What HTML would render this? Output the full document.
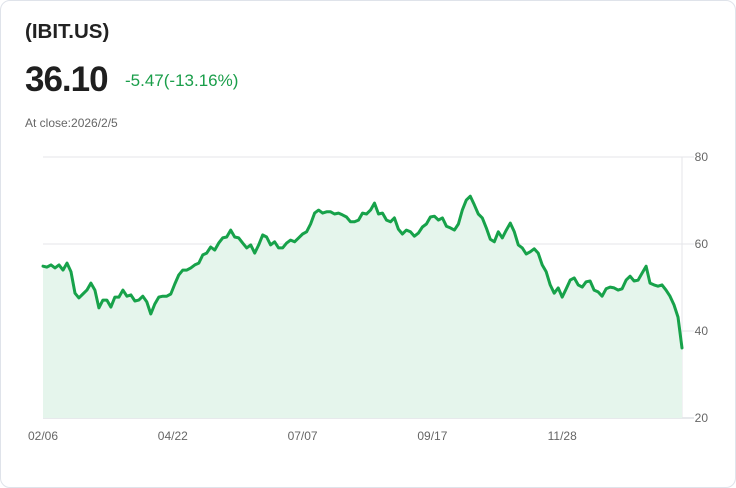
<!DOCTYPE html>
<html><head><meta charset="utf-8"><style>
html,body{margin:0;padding:0;background:#fff;width:736px;height:488px;overflow:hidden;font-family:"Liberation Sans",sans-serif;}
.card{position:absolute;left:0;top:0;width:734px;height:486px;border:1px solid #dfe3ea;border-radius:10px;}
.t{position:absolute;white-space:nowrap;}
</style></head><body>
<div class="card"></div>
<div class="t" style="left:25px;top:20px;font-size:20.5px;font-weight:bold;color:#222;">(IBIT.US)</div>
<div class="t" style="left:25px;top:60px;font-size:35px;font-weight:bold;color:#1f1f1f;letter-spacing:-1px;">36.10</div>
<div class="t" style="left:125px;top:71px;font-size:17px;color:#1a9e4a;">-5.47(-13.16%)</div>
<div class="t" style="left:25px;top:116px;font-size:12px;color:#666;">At close:2026/2/5</div>
<svg id="chart" width="736" height="488" style="position:absolute;left:0;top:0;"></svg>
<script>
const values=[54.9,54.7,55.2,54.5,55.2,54.0,55.6,53.6,48.7,47.6,48.5,49.4,51.0,49.4,45.3,47.1,47.1,45.5,47.8,47.8,49.4,48.0,48.3,46.9,47.1,48.0,46.7,43.9,46.2,47.8,48.0,48.0,48.5,50.8,52.9,54.0,54.0,54.5,55.2,55.6,57.5,57.9,59.3,58.6,60.2,61.4,61.6,63.2,61.6,61.4,60.2,59.1,59.8,57.9,59.8,62.1,61.6,59.8,60.5,59.1,59.1,60.2,60.9,60.5,61.4,62.3,62.8,64.6,67.1,67.8,67.1,67.4,67.4,66.9,67.1,66.7,66.2,65.1,65.1,65.5,67.1,66.9,67.8,69.4,66.9,67.1,65.5,65.1,66.0,63.4,62.3,63.2,62.8,61.8,62.5,63.9,64.6,66.2,66.4,65.5,66.0,64.1,63.7,63.2,64.6,67.8,70.1,71.0,69.0,66.9,66.0,63.7,61.1,60.5,62.8,61.4,63.2,64.8,62.8,59.8,59.1,57.7,58.2,58.9,57.9,55.2,53.6,50.6,48.7,49.9,47.8,49.7,51.7,52.2,50.6,50.1,51.3,51.5,49.4,49.0,48.0,49.7,50.1,49.9,49.4,49.7,51.7,52.6,51.5,51.7,53.3,54.9,51.0,50.6,50.3,50.6,49.4,48.0,46.0,43.2,36.1];
const yTicks=[20,40,60,80];
const xTickLabels=["02/06","04/22","07/07","09/17","11/28"];
const xTickIdx=[0,32.5,65,97.5,130];
const NS="http://www.w3.org/2000/svg";
const svg=document.getElementById('chart');
const X0=43,X1=682,Y0=418,Y1=157,vmin=20,vmax=80;
const xs=i=>X0+(X1-X0)*i/(values.length-1);
const ys=v=>Y0-(v-vmin)/(vmax-vmin)*(Y0-Y1);
function mk(tag,attrs){const e=document.createElementNS(NS,tag);for(const k in attrs)e.setAttribute(k,attrs[k]);svg.appendChild(e);return e;}
yTicks.forEach(v=>{
  const g=mk('line',{x1:X0,x2:X1+12,y1:ys(v),y2:ys(v),stroke:v===20?'#cfd3d8':'#e4e6ea','stroke-width':1});
  
  
  const t=mk('text',{x:708,y:ys(v)+4,'text-anchor':'end','font-size':12,fill:'#666','font-family':'Liberation Sans, sans-serif'});
  t.textContent=v;
  
  
});
const ax=mk('line',{x1:X1,x2:X1,y1:Y1,y2:Y0,stroke:'#e4e6ea','stroke-width':1});


xTickLabels.forEach((l,k)=>{
  const t=mk('text',{x:xs(xTickIdx[k]),y:440,'text-anchor':'middle','font-size':12,fill:'#666','font-family':'Liberation Sans, sans-serif'});
  t.textContent=l;
  
  
});
let d='';values.forEach((v,i)=>{d+=(i?'L':'M')+xs(i).toFixed(1)+','+ys(v).toFixed(1);});
const area=mk('path',{d:d+'L'+xs(values.length-1)+','+Y0+'L'+X0+','+Y0+'Z',fill:'#e5f5ec'});


const line=mk('path',{d:d,fill:'none',stroke:'#17a24a','stroke-width':3,'stroke-linejoin':'round','stroke-linecap':'round'});


</script>
</body></html>
